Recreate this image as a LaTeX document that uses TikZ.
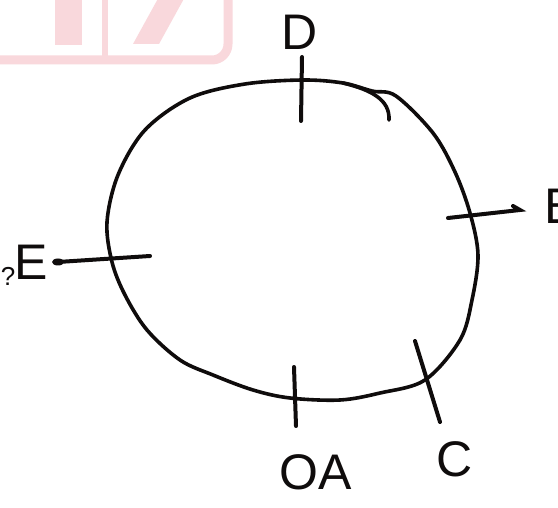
\documentclass[tikz,border=0pt]{standalone}
\usepackage{fontspec}
\setmainfont{Liberation Sans}
\definecolor{wmpink}{RGB}{249,216,220}
\definecolor{ink}{RGB}{15,12,12}
\begin{document}
\begin{tikzpicture}[x=1pt,y=-1pt,
  pen/.style={draw=ink,line width=3.6pt,line cap=round,line join=round},
  tickmark/.style={draw=ink,line width=4pt,line cap=round},
  lbl/.style={text=ink,inner sep=0pt,font=\fontsize{50}{50}\selectfont},
  wm/.style={fill=wmpink,draw=none}]
\useasboundingbox[fill=white] (0,0) rectangle (558,508);
% watermark
\draw[wmpink,line width=9pt] (-10,60) -- (212,60) arc[start angle=90,end angle=0,radius=16] -- (228,-10);
\draw[wmpink,line width=6pt] (105,-5) -- (105,58);
\fill[wm] (55,-5) rectangle (82,45);
\fill[wm] (160,-5) -- (186,-5) -- (159,44) -- (133,44) -- cycle;
% loop
\draw[pen] plot[smooth cycle,tension=0.55] coordinates {
 (303,80) (343,83) (372,91) (396,96) (433,133) (455,172) (470,213) (478,255)
 (472,300) (460,340) (425,380) (380,393) (340,400) (290,398) (253,390) (213,375)
 (180,360) (147,330) (125,295) (112,262) (107,222) (118,175) (145,130) (190,98) (245,84)};
% hook near top
\draw[pen] (343,83) .. controls (372,90) and (390,100) .. (389,120);
% tick marks
\coordinate (dT) at (302,57); \coordinate (dB) at (301,121);
\coordinate (bL) at (448,218); \coordinate (bR) at (520,210);
\coordinate (eL) at (58,262); \coordinate (eR) at (150,256);
\coordinate (aT) at (294,367); \coordinate (aB) at (296,426);
\coordinate (cT) at (415,341); \coordinate (cB) at (440,422);
\draw[tickmark] (dT) -- (dB);
\draw[tickmark] (bL) -- (bR) -- ++(-7,-4);
\draw[tickmark] (eL) -- (eR);
\fill[ink] (eL) ellipse[x radius=6pt,y radius=3.5pt];
\draw[tickmark] (aT) -- (aB);
\draw[tickmark] (cT) -- (cB);
% labels
\node[lbl] (D) at (300,32) {D};
\node[lbl,anchor=west] (B) at (544,206) {B};
\node[lbl] (E) at (31,262) {E};
\node[lbl,font=\fontsize{26}{26}\selectfont] (q) at (8,276) {?};
\node[lbl] (OA) at (316,472) {OA};
\node[lbl] (C) at (455,459) {C};
\end{tikzpicture}
\end{document}
